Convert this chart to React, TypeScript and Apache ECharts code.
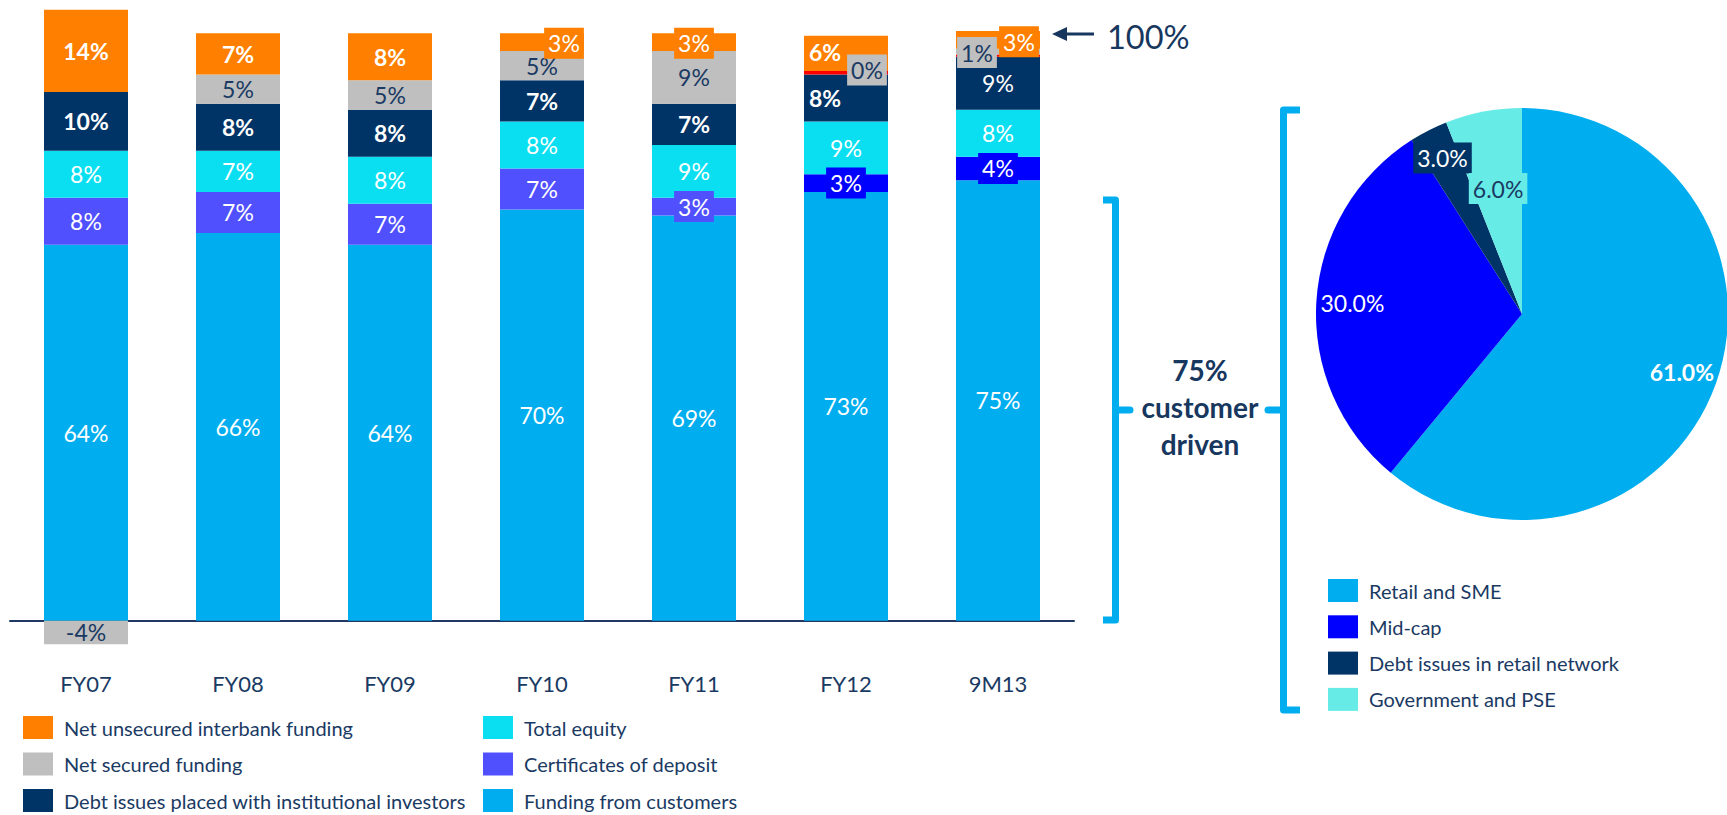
import React, { useEffect, useRef } from 'react';
import * as echarts from 'echarts';

const categories = ['FY07', 'FY08', 'FY09', 'FY10', 'FY11', 'FY12', '9M13'];
const fundingFromCustomers = [64, 66, 64, 70, 69, 73, 75];
const certificatesOfDeposit = [8, 7, 7, 7, 3, 3, 4];
const totalEquity = [8, 7, 8, 8, 9, 9, 8];
const debtIssuesInstitutional = [10, 8, 8, 7, 7, 8, 9];
const otherAdjustment = [null, null, null, null, null, 0.6, 0.4];
const netSecuredFunding = [-4, 5, 5, 5, 9, 0, 1];
const netUnsecuredInterbank = [14, 7, 8, 3, 3, 6, 3];

const barLegendLeft = ['Net unsecured interbank funding', 'Net secured funding', 'Debt issues placed with institutional investors'];
const barLegendRight = ['Total equity', 'Certificates of deposit', 'Funding from customers'];

const pieNames = ['Retail and SME', 'Mid-cap', 'Debt issues in retail network', 'Government and PSE'];
const pieValues = [61, 30, 3, 6];

const FONT = 'Lato, "Noto Sans", sans-serif';
const NAVY_TEXT = '#1A3A63';
const C_CUST = '#00AEEF';
const C_CD = '#5050FF';
const C_BLUE = '#0000FF';
const C_EQ = '#0ADFF2';
const C_DEBT = '#003366';
const C_GREY = '#BFBFBF';
const C_ORANGE = '#FF8000';
const C_RED = '#FF0000';
const C_GOV = '#66EBE6';
const C_BRACKET = '#00AEEF';

const box = (bg: string, offset: number[]) => ({
  backgroundColor: bg,
  padding: [3, 4],
  lineHeight: 25,
  offset,
});

function barSeries(
  name: string,
  values: (number | null)[],
  color: string,
  labelColor: string,
  overrides: Record<number, any> = {},
  itemColors: Record<number, string> = {},
  showLabel = true
) {
  return {
    name,
    type: 'bar',
    stack: 'total',
    barWidth: 84,
    itemStyle: { color },
    label: {
      show: showLabel,
      position: 'inside',
      color: labelColor,
      fontSize: 23,
      fontFamily: FONT,
      formatter: (p: any) => `${p.value}%`,
    },
    emphasis: { disabled: true },
    data: values.map((v, i) => {
      const o: any = { value: v };
      if (overrides[i]) o.label = overrides[i];
      if (itemColors[i]) o.itemStyle = { color: itemColors[i] };
      return o;
    }),
  };
}

export default function App() {
  const ref = useRef<HTMLDivElement>(null);

  useEffect(() => {
    if (!ref.current) return;
    const chart = echarts.init(ref.current, undefined, { renderer: 'svg' });

    const bold = { fontWeight: 'bold' };
    const legendCommon = {
      orient: 'vertical',
      itemWidth: 30,
      itemHeight: 23,
      icon: 'rect',
      padding: 0,
      selectedMode: false,
      textStyle: { color: NAVY_TEXT, fontSize: 20, fontFamily: FONT, padding: [0, 0, 0, 6] },
    };

    const pieCx = 1522;
    const pieCy = 314;
    const pieR = 206;
    const pieTotal = pieValues.reduce((a, b) => a + b, 0);

    // label placement (fraction of radius) and style per slice
    const pieLabelRadius = [0.825, 0.825, 0.85, 0.62];
    const pieLabelStyles: any[] = [
      { fontWeight: 'bold' },
      {},
      { backgroundColor: C_DEBT, padding: [3, 4], lineHeight: 25 },
      { backgroundColor: C_GOV, color: NAVY_TEXT, padding: [3, 4], lineHeight: 25 },
    ];
    let cum = 0;
    const pieLabelData = pieValues.map((v, i) => {
      const mid = cum + v / 2;
      cum += v;
      return { name: pieNames[i], value: [pieLabelRadius[i], mid, v], label: pieLabelStyles[i] };
    });

    const option: any = {
      animation: false,
      textStyle: { fontFamily: FONT },
      grid: { left: 10, right: 653, top: 4, height: 646 },
      xAxis: {
        type: 'category',
        data: categories,
        axisTick: { show: false },
        axisLine: { lineStyle: { color: '#1F3864', width: 2 } },
        axisLabel: { color: NAVY_TEXT, fontSize: 22, fontFamily: FONT, margin: 22 },
      },
      yAxis: { type: 'value', min: -5, max: 105, show: false },
      polar: { center: [pieCx, pieCy], radius: pieR },
      angleAxis: { type: 'value', min: 0, max: pieTotal, startAngle: 90, clockwise: true, show: false },
      radiusAxis: { type: 'value', min: 0, max: 1, show: false },
      legend: [
        { ...legendCommon, left: 23, top: 716, itemGap: 13.5, data: barLegendLeft },
        { ...legendCommon, left: 483, top: 716, itemGap: 13.5, data: barLegendRight },
        { ...legendCommon, left: 1328, top: 579, itemGap: 13.3, data: pieNames },
      ],
      series: [
        barSeries('Funding from customers', fundingFromCustomers, C_CUST, '#FFFFFF'),
        barSeries(
          'Certificates of deposit',
          certificatesOfDeposit,
          C_CD,
          '#FFFFFF',
          { 4: box(C_CD, [0, 0]), 5: box(C_BLUE, [0, 0]), 6: box(C_BLUE, [0, 0]) },
          { 5: C_BLUE, 6: C_BLUE }
        ),
        barSeries('Total equity', totalEquity, C_EQ, '#FFFFFF'),
        barSeries('Debt issues placed with institutional investors', debtIssuesInstitutional, C_DEBT, '#FFFFFF', {
          0: bold,
          1: bold,
          2: bold,
          3: bold,
          4: bold,
          5: { fontWeight: 'bold', offset: [-21, 0] },
        }),
        barSeries('Other', otherAdjustment, C_RED, '#FFFFFF', {}, {}, false),
        barSeries('Net secured funding', netSecuredFunding, C_GREY, NAVY_TEXT, {
          5: box(C_GREY, [21, -1]),
          6: box(C_GREY, [-21, 1]),
        }),
        barSeries('Net unsecured interbank funding', netUnsecuredInterbank, C_ORANGE, '#FFFFFF', {
          0: bold,
          1: bold,
          2: bold,
          3: box(C_ORANGE, [22, 1]),
          4: box(C_ORANGE, [0, 1]),
          5: { fontWeight: 'bold', offset: [-21, -1] },
          6: box(C_ORANGE, [21, 2]),
        }),
        {
          name: 'Customer funding mix',
          type: 'pie',
          center: [pieCx, pieCy],
          radius: [0, pieR],
          startAngle: 90,
          clockwise: true,
          silent: true,
          label: { show: false },
          labelLine: { show: false },
          data: pieNames.map((n, i) => ({
            name: n,
            value: pieValues[i],
            itemStyle: { color: [C_CUST, C_BLUE, C_DEBT, C_GOV][i] },
          })),
        },
        {
          name: 'Customer funding mix labels',
          type: 'scatter',
          coordinateSystem: 'polar',
          symbolSize: 1,
          itemStyle: { color: 'rgba(0,0,0,0)', opacity: 1 },
          emphasis: { disabled: true },
          silent: true,
          z: 10,
          label: {
            show: true,
            position: 'inside',
            color: '#FFFFFF',
            opacity: 1,
            fontSize: 23,
            fontFamily: FONT,
            formatter: (p: any) => `${Number(p.value[2]).toFixed(1)}%`,
          },
          data: pieLabelData,
        },
      ],
      graphic: [
        {
          type: 'line',
          shape: { x1: 1094, y1: 34, x2: 1062, y2: 34 },
          style: { stroke: '#17375E', lineWidth: 3 },
        },
        {
          type: 'polygon',
          shape: { points: [[1052, 34], [1067, 27], [1067, 41]] },
          style: { fill: '#17375E' },
        },
        {
          type: 'text',
          x: 1107,
          y: 36,
          style: {
            text: '100%',
            fill: '#17375E',
            fontSize: 32.5,
            fontFamily: FONT,
            align: 'left',
            verticalAlign: 'middle',
          },
        },
        {
          type: 'polyline',
          shape: { points: [[1103, 200], [1115.5, 200], [1115.5, 620], [1103, 620]] },
          style: { stroke: C_BRACKET, lineWidth: 7, fill: null, lineJoin: 'round', lineCap: 'butt' },
        },
        {
          type: 'line',
          shape: { x1: 1115.5, y1: 410, x2: 1130, y2: 410 },
          style: { stroke: C_BRACKET, lineWidth: 7, lineCap: 'round' },
        },
        {
          type: 'polyline',
          shape: { points: [[1300, 110], [1283.5, 110], [1283.5, 710], [1300, 710]] },
          style: { stroke: C_BRACKET, lineWidth: 7, fill: null, lineJoin: 'round', lineCap: 'butt' },
        },
        {
          type: 'line',
          shape: { x1: 1283.5, y1: 410, x2: 1268, y2: 410 },
          style: { stroke: C_BRACKET, lineWidth: 7, lineCap: 'round' },
        },
        {
          type: 'text',
          x: 1200,
          y: 407,
          style: {
            text: '75%\ncustomer\ndriven',
            fill: '#17375E',
            fontSize: 28,
            fontWeight: 'bold',
            fontFamily: FONT,
            align: 'center',
            verticalAlign: 'middle',
            lineHeight: 37,
          },
        },
      ],
    };

    chart.setOption(option);
    return () => chart.dispose();
  }, []);

  return (
    <div
      ref={ref}
      style={{ position: 'absolute', left: 0, top: 0, width: 1727, height: 815, background: '#FFFFFF' }}
    />
  );
}
